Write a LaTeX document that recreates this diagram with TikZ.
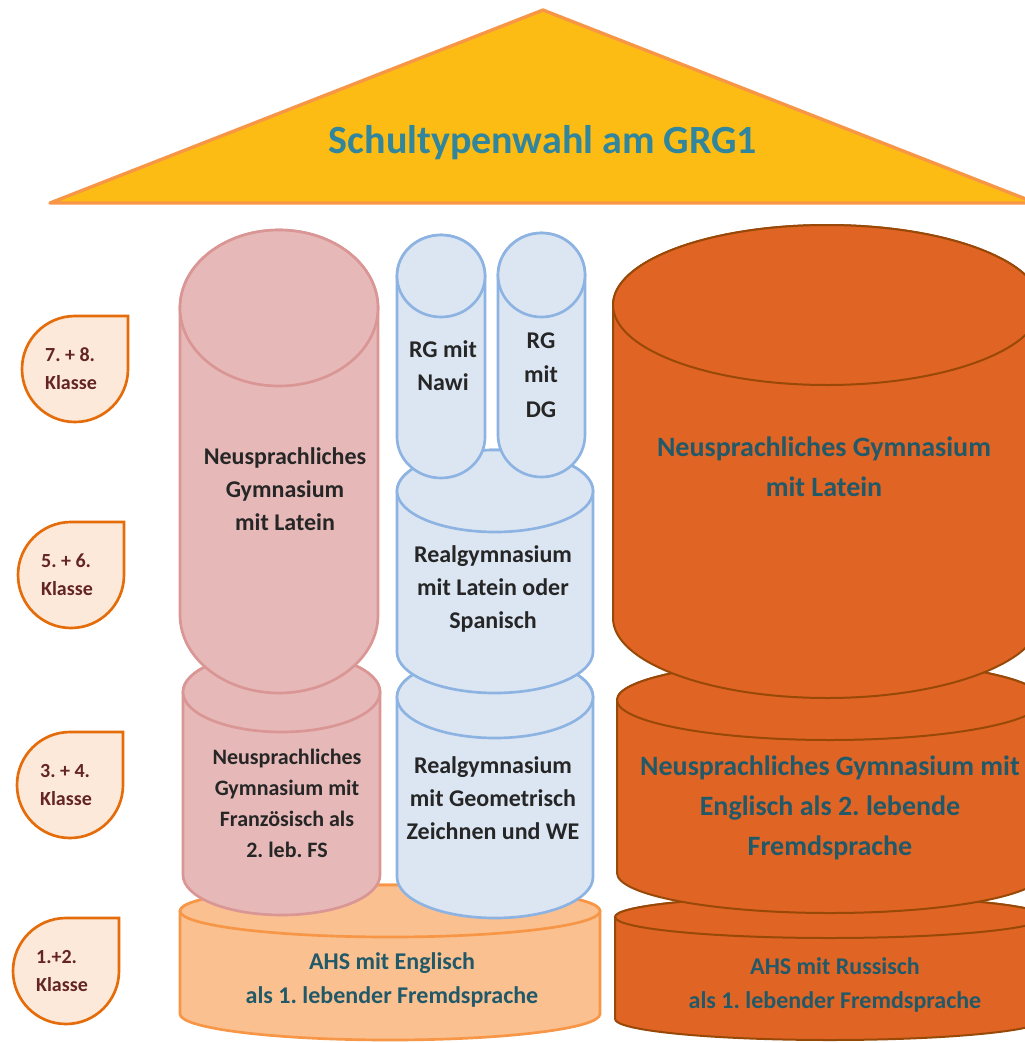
\documentclass[tikz,border=0pt]{standalone}
\usepackage{fontspec}
\setmainfont{Carlito}
\usepackage{xcolor}
\usepackage{tikz}
\frenchspacing

\definecolor{roofFill}{RGB}{252,188,20}
\definecolor{roofLine}{RGB}{247,150,70}
\definecolor{titleTeal}{RGB}{49,133,156}
\definecolor{darkTeal}{RGB}{33,89,104}
\definecolor{badgeFill}{RGB}{253,233,217}
\definecolor{badgeLine}{RGB}{228,108,10}
\definecolor{badgeText}{RGB}{99,37,35}
\definecolor{pinkFill}{RGB}{230,185,184}
\definecolor{pinkLine}{RGB}{217,150,148}
\definecolor{blueFill}{RGB}{220,230,242}
\definecolor{blueLine}{RGB}{141,179,226}
\definecolor{ahsFill}{RGB}{250,192,144}
\definecolor{ahsLine}{RGB}{247,150,70}
\definecolor{rsFill}{RGB}{224,100,36}
\definecolor{rsLine}{RGB}{152,72,7}
\definecolor{inkGrey}{RGB}{38,38,38}

\begin{document}
\begin{tikzpicture}[x=0.75pt, y=-0.75pt,
    badge/.style={fill=badgeFill, draw=badgeLine, line width=2pt},
    klasse/.style={font=\bfseries\fontsize{15}{21}\selectfont, text=badgeText, align=left},
    lighttxt/.style={font=\bfseries\fontsize{18}{24.75}\selectfont, text=inkGrey, align=center},
    smalltxt/.style={font=\bfseries\fontsize{16.5}{23.25}\selectfont, text=inkGrey, align=center},
    darktxt/.style={font=\bfseries\fontsize{21}{30}\selectfont, text=darkTeal, align=center},
    ahstxt/.style={font=\bfseries\fontsize{18}{26}\selectfont, text=darkTeal, align=center}]
    \clip (0,0) rectangle (1025,1043);

    % roof
    \filldraw[fill=roofFill, draw=roofLine, line width=2.5pt, line join=round]
        (543,10) -- (50,203) -- (1036,203) -- cycle;
    \node[font=\bfseries\fontsize{30}{36}\selectfont, text=titleTeal] (title) at (543,143) {Schultypenwahl am GRG1};

    % Klassen
    \foreach \cx/\cy/\nm/\txt in {75/369/k78/{7. + 8.}, 71/575/k56/{5. + 6.},
                                 70/785/k34/{3. + 4.}, 66/971/k12/{1.+2.}}
    {
        \draw[badge] (\cx+53,\cy) -- (\cx+53,\cy-53) -- (\cx,\cy-53)
            arc[start angle=270, end angle=0, radius=53] -- cycle;
        \node[klasse] (\nm) at (\cx-4,\cy) {\txt\\Klasse};
    }

    % Saeulen, von hinten nach vorne
    \foreach \cx/\rx/\yt/\yb/\ry/\fc/\dc/\lw in {
        390/210/911/1014/26/ahsFill/ahsLine/2,
        281.5/98.5/692/875/40/pinkFill/pinkLine/2,
        279/99/308/615/78/pinkFill/pinkLine/2,
        495/98/697/877/41/blueFill/blueLine/2,
        495/98/491/652/41/blueFill/blueLine/2,
        441/44/276/437/41/blueFill/blueLine/2,
        541.5/43.5/275/435/42/blueFill/blueLine/2,
        830/215/917/1019/21/rsFill/rsLine/1.5,
        830/213/700/873/40/rsFill/rsLine/1.5,
        827/214/305/618/80/rsFill/rsLine/1.5}
    {
        \filldraw[fill=\fc, draw=\dc, line width=\lw pt] (\cx-\rx,\yt) -- (\cx-\rx,\yb)
            arc[start angle=180, end angle=0, x radius=\rx, y radius=\ry] -- (\cx+\rx,\yt)
            arc[start angle=0, end angle=-180, x radius=\rx, y radius=\ry] -- cycle;
        \filldraw[fill=\fc, draw=\dc, line width=\lw pt] (\cx,\yt) ellipse[x radius=\rx, y radius=\ry];
    }

    \node[ahstxt] (ahsE) at (392,980) {AHS mit Englisch\\als 1. lebender Fremdsprache};
    \node[smalltxt] (ngF) at (287,803) {Neusprachliches\\Gymnasium mit\\Französisch als\\2. leb. FS};
    \node[lighttxt] (ngL) at (285,489) {Neusprachliches\\Gymnasium\\mit Latein};
    \node[lighttxt] (rgGZ) at (493,798) {Realgymnasium\\mit Geometrisch\\Zeichnen und WE};
    \node[lighttxt] (rgLS) at (493,589) {Realgymnasium\\mit Latein oder\\Spanisch};
    \node[lighttxt] (rgNawi) at (443,366) {RG mit\\Nawi};
    \node[lighttxt, font=\bfseries\fontsize{18}{26}\selectfont] (rgDG) at (541,375) {RG\\mit\\DG};
    \node[ahstxt] (ahsR) at (835,985) {AHS mit Russisch\\als 1. lebender Fremdsprache};
    \node[darktxt] (ngE) at (830,808) {Neusprachliches Gymnasium mit\\Englisch als 2. lebende\\Fremdsprache};
    \node[darktxt] (ngLr) at (824,467) {Neusprachliches Gymnasium\\mit Latein};
\end{tikzpicture}
\end{document}
